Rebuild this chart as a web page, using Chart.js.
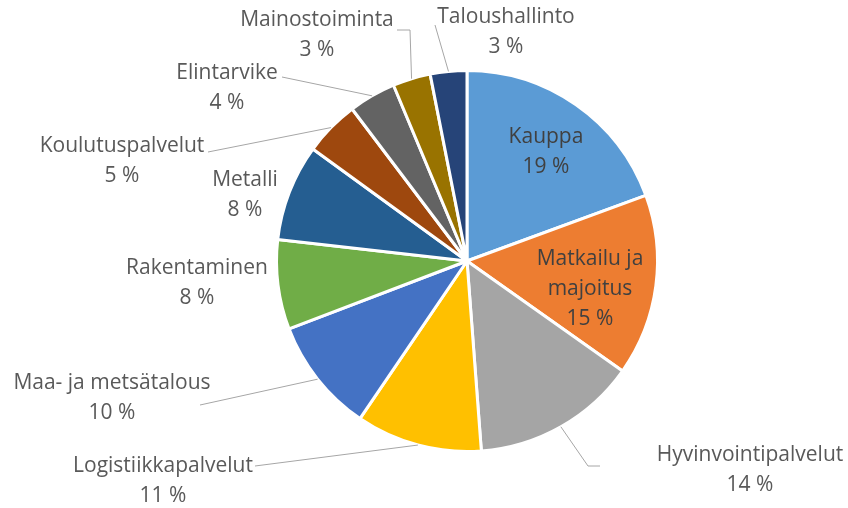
<!DOCTYPE html>
<html>
<head>
<meta charset="utf-8">
<script src="https://cdn.jsdelivr.net/npm/chart.js@4.4.1/dist/chart.umd.min.js"></script>
<style>
  html, body { margin: 0; padding: 0; background: #fff; }
  #wrap { width: 848px; height: 508px; }
</style>
</head>
<body>
<div id="wrap"><canvas id="pie" width="848" height="508"></canvas></div>
<script>
// data (slice sizes)
const categories = ['Kauppa', 'Matkailu ja majoitus', 'Hyvinvointipalvelut', 'Logistiikkapalvelut',
  'Maa- ja metsätalous', 'Rakentaminen', 'Metalli', 'Koulutuspalvelut', 'Elintarvike',
  'Mainostoiminta', 'Taloushallinto'];
const shares = [19.4, 15.4, 14.0, 10.7, 9.7, 7.6, 8.2, 4.7, 4.0, 3.2, 3.1];
const sliceColors = ['#5b9bd5', '#ed7d31', '#a5a5a5', '#ffc000', '#4472c4', '#70ad47',
  '#255e91', '#9e480e', '#636363', '#997300', '#264478'];

// where each label's text goes (lines = text rows), and optional leader line
const labelLayout = [
  { lines: ['Kauppa'], x: 546, y: 137, inside: true },
  { lines: ['Matkailu ja', 'majoitus'], x: 590, y: 259, inside: true },
  { lines: ['Hyvinvointipalvelut'], x: 750, y: 455, leader: [[588, 466], [600, 466]] },
  { lines: ['Logistiikkapalvelut'], x: 163, y: 466, leader: [[255, 466]] },
  { lines: ['Maa- ja metsätalous'], x: 112, y: 383, leader: [[200, 405]] },
  { lines: ['Rakentaminen'], x: 197, y: 268 },
  { lines: ['Metalli'], x: 245, y: 180 },
  { lines: ['Koulutuspalvelut'], x: 122, y: 146, leader: [[208, 152]] },
  { lines: ['Elintarvike'], x: 227, y: 73, leader: [[282, 77]] },
  { lines: ['Mainostoiminta'], x: 317, y: 20, leader: [[410, 30], [397, 30]] },
  { lines: ['Taloushallinto'], x: 506, y: 17, leader: [[435, 25]] }
];

const FONT = '21px "Open Sans", sans-serif';
const LINE_H = 30;

const pieLabels = {
  id: 'pieLabels',
  afterDatasetsDraw(chart) {
    const ctx = chart.ctx;
    const arcs = chart.getDatasetMeta(0).data;
    const total = shares.reduce((a, b) => a + b, 0);
    ctx.save();
    // leader lines
    ctx.strokeStyle = '#a6a6a6';
    ctx.lineWidth = 1;
    arcs.forEach((arc, i) => {
      const lay = labelLayout[i];
      if (!lay.leader) return;
      const mid = (arc.startAngle + arc.endAngle) / 2;
      const sx = arc.x + Math.cos(mid) * arc.outerRadius;
      const sy = arc.y + Math.sin(mid) * arc.outerRadius;
      ctx.beginPath();
      ctx.moveTo(sx, sy);
      lay.leader.forEach(p => ctx.lineTo(p[0], p[1]));
      ctx.stroke();
    });
    // texts
    ctx.font = FONT;
    ctx.textAlign = 'center';
    ctx.textBaseline = 'middle';
    arcs.forEach((arc, i) => {
      const lay = labelLayout[i];
      ctx.fillStyle = lay.inside ? '#404040' : '#595959';
      const pct = Math.round(shares[i] / total * 100) + ' %';
      const rows = lay.lines.concat([pct]);
      rows.forEach((t, k) => ctx.fillText(t, lay.x, lay.y + k * LINE_H));
    });
    ctx.restore();
  }
};

new Chart(document.getElementById('pie'), {
  type: 'pie',
  data: {
    labels: categories,
    datasets: [{
      data: shares,
      backgroundColor: sliceColors,
      borderColor: '#ffffff',
      borderWidth: 3
    }]
  },
  options: {
    responsive: false,
    animation: false,
    events: [],
    layout: { padding: { left: 275, right: 189, top: 69, bottom: 55 } },
    plugins: {
      legend: { display: false },
      tooltip: { enabled: false }
    }
  },
  plugins: [pieLabels]
});
</script>
</body>
</html>
